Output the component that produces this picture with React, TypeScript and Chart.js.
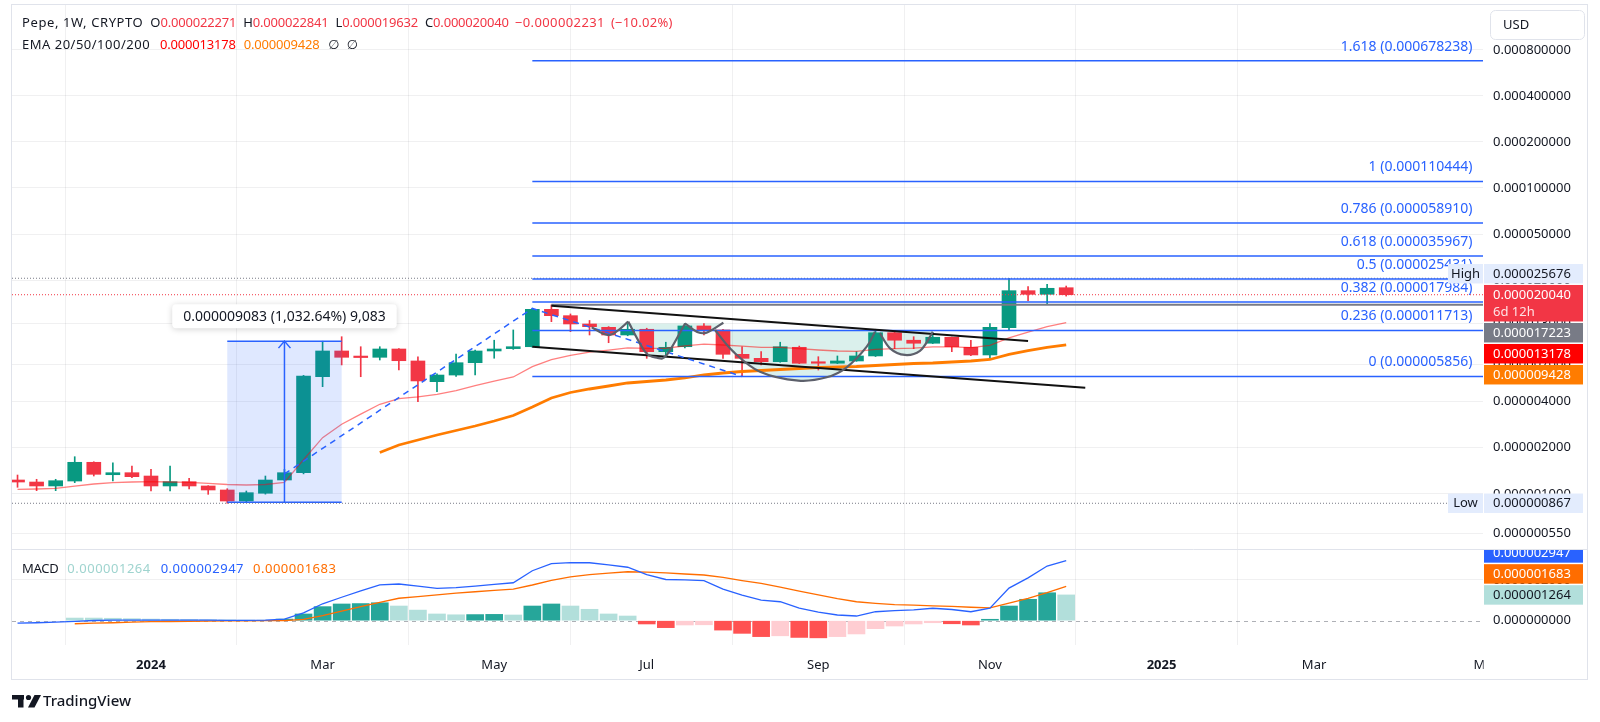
import React, { useEffect, useRef } from 'react';
import { Chart, registerables } from 'chart.js';

Chart.register(...registerables);

// ---------------------------------------------------------------------------
// DATA — weekly bars. Prices are in millionths of a US dollar (1 = 0.000001 USD).
// Week index 0 is the week of 1 Jan 2024; the first bar is week -7.
// ---------------------------------------------------------------------------
const FIRST_WEEK = -7;

const opens = [1.231, 1.194, 1.125, 1.212, 1.607, 1.333, 1.374, 1.307, 1.125, 1.2, 1.125, 1.059, 0.897, 1.008, 1.231, 1.374,
  5.834, 8.59, 7.85, 7.81, 8.85, 7.39, 5.41, 5.98, 7.2, 8.59, 8.9, 9.16, 16.09, 14.62, 12.9, 12.27, 10.93, 11.91, 8.5, 9.16,
  12.52, 11.79, 8.17, 7.69, 7.31, 9.08, 7.2, 7.14, 7.39, 7.97, 11.31, 10.1, 9.65, 10.56, 9.08, 8.09, 12.2, 21.3, 20.17, 22.271];
const highs = [1.327, 1.244, 1.244, 1.748, 1.62, 1.597, 1.52, 1.446, 1.52, 1.263, 1.13, 1.08, 1.043, 1.307, 1.446, 5.95,
  9.95, 10.65, 9.16, 9.16, 8.9, 7.88, 6.1, 8.21, 8.7, 10.1, 11.79, 16.3, 17.17, 15.0, 13.6, 12.4, 13.0, 12.1, 9.8, 13.0,
  13.0, 11.9, 9.16, 8.5, 9.8, 9.25, 7.88, 7.97, 8.5, 11.91, 11.4, 10.65, 11.31, 10.6, 10.1, 13.0, 25.676, 22.62, 23.46, 22.841];
const lows = [1.103, 1.048, 1.048, 1.182, 1.307, 1.212, 1.274, 1.043, 1.043, 1.075, 0.992, 0.867, 0.885, 0.995, 1.22, 1.35,
  5.017, 6.96, 5.83, 7.5, 6.45, 4.0, 4.65, 5.85, 5.98, 7.7, 8.8, 9.1, 13.36, 11.49, 10.93, 9.73, 10.8, 7.69, 7.97, 9.0,
  10.93, 7.69, 5.856, 6.96, 7.25, 7.1, 6.45, 7.1, 7.35, 7.9, 8.9, 8.9, 9.6, 8.5, 8.0, 7.69, 11.79, 18.32, 17.43, 19.632];
const closes = [1.194, 1.125, 1.218, 1.607, 1.341, 1.374, 1.294, 1.125, 1.2, 1.125, 1.059, 0.897, 1.017, 1.231, 1.374, 5.894,
  8.59, 7.81, 7.78, 8.85, 7.42, 5.47, 5.98, 7.2, 8.59, 8.85, 9.16, 16.09, 14.62, 12.9, 12.39, 10.93, 11.91, 8.5, 9.08, 12.52,
  11.79, 8.17, 7.69, 7.31, 9.16, 7.14, 7.14, 7.39, 7.97, 11.31, 10.1, 9.65, 10.56, 9.16, 8.09, 12.27, 21.3, 20.17, 22.08, 20.04];

const ema20 = [1.07, 1.075, 1.086, 1.124, 1.159, 1.182, 1.194, 1.2, 1.194, 1.186, 1.171, 1.15, 1.142, 1.15, 1.186,
  1.67, 2.33, 2.85, 3.32, 3.85, 4.19, 4.31, 4.47, 4.73, 5.1, 5.46, 5.81, 6.79, 7.53, 8.04, 8.45, 8.69, 8.99, 8.94, 8.95,
  9.29, 9.53, 9.4, 9.24, 9.06, 9.07, 8.89, 8.72, 8.59, 8.53, 8.79, 8.91, 8.98, 9.13, 9.13, 9.03, 9.34, 10.48, 11.4, 12.41, 13.178];
const ema50 = [null, null, null, null, null, null, null, null, null, null, null, null, null, null, null, null, null, null, null,
  1.863, 2.085, 2.248, 2.424, 2.594, 2.776, 2.993, 3.252, 3.695, 4.232, 4.597, 4.846, 5.07, 5.305, 5.426, 5.55, 5.72, 5.984,
  6.166, 6.308, 6.404, 6.501, 6.6, 6.699, 6.75, 6.801, 6.904, 7.01, 7.116, 7.17, 7.278, 7.388, 7.557, 8.15, 8.62, 9.08, 9.428];

const macdLine = [-0.12, -0.1, -0.07, -0.03, 0.01, 0.03, 0.03, 0.03, 0.03, 0.03, 0.03, 0.02, 0.02, 0.03, 0.08, 0.38, 0.83,
  1.15, 1.46, 1.76, 1.8, 1.7, 1.58, 1.62, 1.7, 1.78, 1.86, 2.45, 2.8, 2.85, 2.84, 2.74, 2.62, 2.26, 2.02, 2.0, 1.96, 1.55,
  1.25, 1.01, 0.93, 0.62, 0.42, 0.28, 0.23, 0.44, 0.49, 0.53, 0.61, 0.55, 0.44, 0.61, 1.6, 2.1, 2.68, 2.947];
const signalLine = [null, null, null, -0.15, -0.12, -0.1, -0.07, -0.05, -0.04, -0.03, -0.02, -0.01, -0.01, 0.0, 0.0, 0.07,
  0.25, 0.47, 0.69, 0.9, 1.1, 1.18, 1.27, 1.35, 1.42, 1.49, 1.55, 1.75, 1.98, 2.15, 2.26, 2.33, 2.4, 2.38, 2.34, 2.29, 2.24,
  2.12, 1.97, 1.83, 1.65, 1.45, 1.27, 1.08, 0.93, 0.85, 0.79, 0.76, 0.73, 0.7, 0.66, 0.63, 0.86, 1.1, 1.38, 1.683];
const histogram = [null, null, null, 0.13, 0.13, 0.12, 0.1, 0.08, 0.07, 0.06, 0.05, 0.04, 0.03, 0.03, 0.08, 0.33, 0.69, 0.82,
  0.84, 0.88, 0.72, 0.52, 0.33, 0.29, 0.3, 0.31, 0.28, 0.72, 0.82, 0.72, 0.56, 0.33, 0.23, -0.16, -0.34, -0.21, -0.2, -0.46,
  -0.62, -0.78, -0.74, -0.82, -0.84, -0.78, -0.65, -0.39, -0.26, -0.16, -0.1, -0.15, -0.21, 0.07, 0.72, 1.05, 1.37, 1.264];
// shade of each histogram column as seen: up = dark teal, dn = light teal, nd = red, nu = light red
const histShade = [null, null, null, 'dn', 'dn', 'dn', 'dn', 'dn', 'dn', 'dn', 'dn', 'dn', 'dn', 'dn', 'up', 'up', 'up', 'up',
  'up', 'up', 'dn', 'dn', 'dn', 'dn', 'up', 'up', 'dn', 'up', 'up', 'dn', 'dn', 'dn', 'dn', 'nd', 'nd', 'nu', 'nu', 'nd', 'nd',
  'nd', 'nu', 'nd', 'nd', 'nu', 'nu', 'nu', 'nu', 'nu', 'nu', 'nd', 'nd', 'up', 'up', 'up', 'up', 'dn'];

const timeTickWeeks = [0, 9, 18, 26, 35, 44, 53, 61, 70];
const timeTickLabels = ['2024', 'Mar', 'May', 'Jul', 'Sep', 'Nov', '2025', 'Mar', 'Mar'];
const boldTickLabels = ['2024', '2025'];
const priceTicks = [0.0008, 0.0004, 0.0002, 0.0001, 0.00005, 0.000025, 0.000013, 0.000007, 0.000004, 0.000002, 0.000001, 0.00000055];
const macdTicks = [0, 0.000002];

const fibLevels = ['1.618', '1', '0.786', '0.618', '0.5', '0.382', '0.236', '0'];
const fibPrices = [678.238, 110.444, 58.91, 35.967, 25.431, 17.984, 11.713, 5.856];

// drawings (anchors are [week, price in millionths])
const fibStartWeek = 20;
const grayRayStartWeek = 21;
const grayRayPrice = 17.223;
const upperTrend = [[21, 17.0], [46, 9.98]];
const lowerTrend = [[20, 9.165], [49, 4.94]];
const dashedPath = [[7, 1.35], [20, 16.3], [31, 5.856]];
const measureWeeks = [4, 10];
const measureArrowWeek = 7;
const measurePrices = [0.8796, 9.9626];
const measureText = '0.000009083 (1,032.64%) 9,083';
const cupWaveArcs = [
  [[23.11, 12.27], [24.07, 10.93], [25.03, 13.36]],
  [[25.03, 13.36], [25.91, 8.5], [26.52, 7.77], [27.05, 8.09], [28.01, 13.0]],
  [[28.01, 13.0], [28.62, 11.49], [29.14, 11.31], [30.02, 13.15]],
];
const cupWaveTop = 13.0;
const cupBowl = [[29.58, 11.79], [30.54, 8.5], [31.94, 6.28], [33.95, 5.5], [35.44, 5.78], [36.49, 6.72], [37.54, 9.165], [37.97, 11.49]];
const cupBowlTop = 11.79;
const cupHandle = [[38.23, 11.23], [38.76, 8.94], [39.54, 8.09], [40.33, 8.61], [40.86, 10.65], [41.0, 11.49]];
const cupHandleTop = 11.7;

const lastPrice = 20.04;
const highPrice = 25.676;
const lowPrice = 0.867;
const countdown = '6d 12h';
const changeAbs = '0.000002231';
const changePct = '10.02%';

// visible window
const X_MIN = -7.29;
const X_MAX = 69.86;
const Y_MIN = 4.355e-7;
const Y_MAX = 1.5726e-3;
const M_MIN = -1.191e-6;
const M_MAX = 3.515e-6;

// ---------------------------------------------------------------------------
const U = 1e-6;
const FONT = '"Noto Sans", Roboto, "DejaVu Sans", sans-serif';
const TEXT = '#131722';
const GRID = 'rgba(42,46,57,0.07)';
const GREEN = '#089981';
const RED = '#f23645';
const EMA20_COLOR = '#ff0000';
const EMA50_COLOR = '#ff7c00';
const BLUE = '#2962ff';
const M_ORANGE = '#ff6d00';
const LIGHT_TEAL = '#b2dfdb';
const LABEL_BLUE = '#e3ecfd';
const MINUS = '\u2212';

const weeks = opens.map((_, i) => FIRST_WEEK + i);
const candleColor = weeks.map((_, i) => (closes[i] >= opens[i] ? GREEN : RED));
const shadeColor: any = { up: '#26a69a', dn: LIGHT_TEAL, nd: '#ff5252', nu: '#ffcdd2' };
const fmt = (v: number) => v.toFixed(9);

function smoothPath(ctx: any, pts: number[][], move: boolean) {
  if (move) ctx.moveTo(pts[0][0], pts[0][1]);
  else ctx.lineTo(pts[0][0], pts[0][1]);
  for (let i = 0; i < pts.length - 1; i++) {
    const p0 = pts[i - 1] || pts[i];
    const p1 = pts[i];
    const p2 = pts[i + 1];
    const p3 = pts[i + 2] || p2;
    ctx.bezierCurveTo(
      p1[0] + (p2[0] - p0[0]) / 6, p1[1] + (p2[1] - p0[1]) / 6,
      p2[0] - (p3[0] - p1[0]) / 6, p2[1] - (p3[1] - p1[1]) / 6,
      p2[0], p2[1]);
  }
}

// parts: [text, color, gapAfter, letterSpacing]
function drawRun(ctx: any, x: number, y: number, parts: any[]) {
  for (const [t, color, gap, sp] of parts) {
    ctx.letterSpacing = `${sp || 0}px`;
    ctx.fillStyle = color;
    ctx.fillText(t, x, y);
    x += ctx.measureText(t).width + (gap || 0);
  }
  ctx.letterSpacing = '0px';
}

function stackLabels(items: any[], fixedIdx: number, gap: number) {
  for (let i = fixedIdx - 1; i >= 0; i--) {
    const lim = items[i + 1].top - gap;
    if (items[i].top + items[i].h > lim) items[i].top = lim - items[i].h;
  }
  for (let i = fixedIdx + 1; i < items.length; i++) {
    const lim = items[i - 1].top + items[i - 1].h + gap;
    if (items[i].top < lim) items[i].top = lim;
  }
}

const noPad = (s: any) => {
  s.paddingTop = 0;
  s.paddingBottom = 0;
  s.paddingLeft = 0;
  s.paddingRight = 0;
};

const overlay = {
  id: 'tvOverlay',
  beforeDatasetsDraw(chart: any) {
    const { ctx, chartArea: ca } = chart;
    const xs = chart.scales.x;
    const ys = chart.scales.y;
    const y2 = chart.scales.y2;
    const X = (w: number) => xs.getPixelForValue(w);
    const Y = (v: number) => ys.getPixelForValue(v * U);
    const P = (pts: number[][]) => pts.map((p) => [X(p[0]), Y(p[1])]);
    ctx.save();
    ctx.beginPath();
    ctx.rect(ca.left, ys.top, ca.right - ca.left, ys.bottom - ys.top);
    ctx.clip();
    ctx.fillStyle = 'rgba(8,153,129,0.15)';
    const region = (arcs: number[][][], top: number) => {
      const first = arcs[0][0];
      const last = arcs[arcs.length - 1][arcs[arcs.length - 1].length - 1];
      ctx.beginPath();
      ctx.moveTo(X(first[0]), Y(top));
      ctx.lineTo(X(last[0]), Y(top));
      for (let a = arcs.length - 1; a >= 0; a--) smoothPath(ctx, P(arcs[a].slice().reverse()), false);
      ctx.closePath();
      ctx.fill();
    };
    region(cupWaveArcs, cupWaveTop);
    region([cupBowl], cupBowlTop);
    region([cupHandle], cupHandleTop);
    ctx.restore();

    // MACD zero line
    ctx.save();
    ctx.strokeStyle = 'rgba(120,123,134,0.6)';
    ctx.lineWidth = 1;
    ctx.setLineDash([4, 4]);
    const z = Math.round(y2.getPixelForValue(0)) + 0.5;
    ctx.beginPath();
    ctx.moveTo(ca.left, z);
    ctx.lineTo(ca.right, z);
    ctx.stroke();
    ctx.restore();
  },
  afterDatasetsDraw(chart: any) {
    const { ctx, chartArea: ca } = chart;
    const xs = chart.scales.x;
    const ys = chart.scales.y;
    const X = (w: number) => xs.getPixelForValue(w);
    const Y = (v: number) => ys.getPixelForValue(v * U);
    const P = (pts: number[][]) => pts.map((p) => [X(p[0]), Y(p[1])]);
    const line = (pts: number[][], color: string, width: number, dash: number[] = []) => {
      ctx.save();
      ctx.strokeStyle = color;
      ctx.lineWidth = width;
      ctx.setLineDash(dash);
      ctx.beginPath();
      pts.forEach((p, i) => (i ? ctx.lineTo(p[0], p[1]) : ctx.moveTo(p[0], p[1])));
      ctx.stroke();
      ctx.restore();
    };
    const tagLeft = ca.right - 35;

    ctx.save();
    ctx.beginPath();
    ctx.rect(ca.left, ys.top, ca.right - ca.left, ys.bottom - ys.top);
    ctx.clip();

    // measure tool
    const mx1 = X(measureWeeks[0]);
    const mx2 = X(measureWeeks[1]);
    const myTop = Y(measurePrices[1]);
    const myBot = Y(measurePrices[0]);
    ctx.fillStyle = 'rgba(41,98,255,0.15)';
    ctx.fillRect(mx1, myTop, mx2 - mx1, myBot - myTop);
    line([[mx1, myTop], [mx2, myTop]], BLUE, 1.5);
    line([[mx1, myBot], [mx2, myBot]], BLUE, 1.5);
    const ax = X(measureArrowWeek);
    line([[ax, myBot], [ax, myTop]], BLUE, 1.5);
    line([[ax - 6, myTop + 7], [ax, myTop], [ax + 6, myTop + 7]], BLUE, 1.5);

    // high / low / last price lines
    line([[ca.left, Y(highPrice)], [tagLeft, Y(highPrice)]], '#787b86', 1, [1, 2]);
    line([[ca.left, Y(lowPrice)], [tagLeft, Y(lowPrice)]], '#787b86', 1, [1, 2]);
    line([[ca.left, Y(lastPrice)], [ca.right, Y(lastPrice)]], RED, 1, [1, 2]);

    // fib lines
    fibPrices.forEach((p) => line([[X(fibStartWeek), Y(p)], [ca.right, Y(p)]], BLUE, 1.5));
    // grey horizontal ray
    line([[X(grayRayStartWeek), Y(grayRayPrice)], [ca.right, Y(grayRayPrice)]], '#787b86', 2);
    // channel
    line(P(upperTrend), '#111', 2);
    line(P(lowerTrend), '#111', 2);
    // dashed path
    line(P(dashedPath), BLUE, 1.5, [6, 5]);
    // cup & handle curves
    ctx.save();
    ctx.strokeStyle = '#5d606b';
    ctx.lineWidth = 2.2;
    for (const arc of [...cupWaveArcs, cupBowl, cupHandle]) {
      ctx.beginPath();
      smoothPath(ctx, P(arc), true);
      ctx.stroke();
    }
    ctx.restore();
    ctx.restore();

    // measure label
    ctx.save();
    ctx.font = `14px ${FONT}`;
    const tw = ctx.measureText(measureText).width + 22;
    const lx = ax - tw / 2;
    const ly = myTop - 13 - 24;
    ctx.shadowColor = 'rgba(0,0,0,0.18)';
    ctx.shadowBlur = 6;
    ctx.shadowOffsetY = 1;
    ctx.fillStyle = '#fff';
    ctx.beginPath();
    ctx.roundRect(lx, ly, tw, 24, 4);
    ctx.fill();
    ctx.shadowColor = 'transparent';
    ctx.fillStyle = TEXT;
    ctx.textAlign = 'center';
    ctx.textBaseline = 'middle';
    ctx.fillText(measureText, ax, ly + 12.5);
    ctx.restore();

    // fib labels
    ctx.save();
    ctx.font = `14px ${FONT}`;
    ctx.fillStyle = BLUE;
    ctx.textAlign = 'right';
    ctx.textBaseline = 'middle';
    fibPrices.forEach((p, i) => {
      ctx.fillText(`${fibLevels[i]} (${fmt(p * U)})`, ca.right - 10.5, Y(p) - 14);
    });
    ctx.restore();
  },
  afterDraw(chart: any) {
    const { ctx, chartArea: ca } = chart;
    const xs = chart.scales.x;
    const ys = chart.scales.y;
    const y2 = chart.scales.y2;

    ctx.save();
    // clip the time label that runs under the price scale
    ctx.fillStyle = '#fff';
    ctx.fillRect(ca.right + 0.5, xs.top + 1, 1586 - ca.right, xs.bottom - xs.top - 2);

    // pane separator & frame
    ctx.strokeStyle = '#e0e3eb';
    ctx.lineWidth = 1;
    ctx.beginPath();
    ctx.moveTo(ca.left, Math.round(ys.bottom) + 0.5);
    ctx.lineTo(1587, Math.round(ys.bottom) + 0.5);
    ctx.stroke();
    ctx.strokeRect(11.5, 4.5, 1576, 675);

    ctx.font = `13px ${FONT}`;
    ctx.textBaseline = 'middle';
    const boxX = ca.right + 1;
    const boxW = 99;
    const textX = ca.right + 10;

    // price scale labels
    const items: any[] = [
      { v: highPrice, bg: LABEL_BLUE, fg: TEXT, tag: 'High' },
      { v: lastPrice, bg: RED, fg: '#fff', fixed: true, second: countdown },
      { v: grayRayPrice, bg: '#787b86', fg: '#fff' },
      { v: ema20[ema20.length - 1], bg: EMA20_COLOR, fg: '#fff' },
      { v: ema50[ema50.length - 1], bg: EMA50_COLOR, fg: '#fff' },
      { v: lowPrice, bg: LABEL_BLUE, fg: TEXT, tag: 'Low' },
    ].map((it) => {
      const y = ys.getPixelForValue(it.v * U);
      return { ...it, y, top: y - 9.75, h: it.second ? 36.5 : 19.5 };
    });
    stackLabels(items, 1, 1.5);
    ctx.save();
    ctx.beginPath();
    ctx.rect(ca.left, ys.top, 1587 - ca.left, ys.bottom - ys.top);
    ctx.clip();
    for (const it of items) {
      ctx.fillStyle = it.bg;
      ctx.fillRect(boxX, it.top, boxW, it.h);
      ctx.fillStyle = it.fg;
      ctx.textAlign = 'left';
      ctx.fillText(fmt(it.v * U), textX, it.top + 10);
      if (it.second) {
        ctx.fillStyle = 'rgba(255,255,255,0.85)';
        ctx.fillText(it.second, textX, it.top + 27);
      }
      if (it.tag) {
        ctx.fillStyle = it.bg;
        ctx.fillRect(ca.right - 35, it.top, 35, it.h);
        ctx.fillStyle = TEXT;
        ctx.textAlign = 'center';
        ctx.fillText(it.tag, ca.right - 17.5, it.top + 10);
      }
    }
    ctx.restore();

    // MACD scale labels
    const mItems: any[] = [
      { v: macdLine[macdLine.length - 1], bg: BLUE, fg: '#fff' },
      { v: signalLine[signalLine.length - 1], bg: M_ORANGE, fg: '#fff' },
      { v: histogram[histogram.length - 1], bg: LIGHT_TEAL, fg: TEXT },
    ].map((it) => {
      const y = y2.getPixelForValue(it.v * U);
      return { ...it, top: y - 9.75, h: 19.5 };
    });
    stackLabels(mItems, 2, 1.5);
    ctx.save();
    ctx.beginPath();
    ctx.rect(ca.right, ys.bottom + 1, 1587 - ca.right, y2.bottom - ys.bottom - 1);
    ctx.clip();
    ctx.textAlign = 'left';
    for (const it of mItems) {
      ctx.fillStyle = it.bg;
      ctx.fillRect(boxX, it.top, boxW, it.h);
      ctx.fillStyle = it.fg;
      ctx.fillText(fmt(it.v * U), textX, it.top + 10);
    }
    ctx.restore();

    // legends
    ctx.textAlign = 'left';
    drawRun(ctx, 22, 23, [
      ['Pepe, 1W, CRYPTO', TEXT, 7, 0.6], ['O', TEXT, 0], [fmt(opens[opens.length - 1] * U), RED, 7, -0.2],
      ['H', TEXT, 0], [fmt(highs[highs.length - 1] * U), RED, 7, -0.2],
      ['L', TEXT, 0], [fmt(lows[lows.length - 1] * U), RED, 7, -0.2],
      ['C', TEXT, 0], [fmt(closes[closes.length - 1] * U), RED, 6, -0.2],
      [MINUS, RED, 0.5], [changeAbs, RED, 6, 0.4], ['(', RED, 0], [MINUS, RED, 0.5], [changePct + ')', RED, 0, 0.3],
    ]);
    drawRun(ctx, 22, 45, [
      ['EMA 20/50/100/200', TEXT, 10, 0.5], [fmt(ema20[ema20.length - 1] * U), EMA20_COLOR, 8, -0.2],
      [fmt(ema50[ema50.length - 1] * U), EMA50_COLOR, 9, -0.2], ['\u2205', TEXT, 7], ['\u2205', TEXT, 0],
    ]);
    drawRun(ctx, 22, 569, [
      ['MACD', TEXT, 9, -0.3], [fmt(histogram[histogram.length - 1] * U), '#9fd4cf', 10, 0.5],
      [fmt(macdLine[macdLine.length - 1] * U), BLUE, 9, 0.5], [fmt(signalLine[signalLine.length - 1] * U), M_ORANGE, 0, 0.5],
    ]);

    // currency button
    ctx.strokeStyle = '#e0e3eb';
    ctx.beginPath();
    ctx.roundRect(1490.5, 10.5, 94, 29, 5);
    ctx.stroke();
    ctx.fillStyle = TEXT;
    ctx.fillText('USD', 1503, 25.5);

    // TradingView mark
    ctx.fillStyle = TEXT;
    ctx.fillRect(12, 695, 12, 4.5);
    ctx.fillRect(18, 695, 5.5, 12.5);
    ctx.beginPath();
    ctx.arc(28.5, 697.5, 2.6, 0, Math.PI * 2);
    ctx.fill();
    ctx.beginPath();
    ctx.moveTo(34.5, 695);
    ctx.lineTo(41, 695);
    ctx.lineTo(34.5, 707.5);
    ctx.lineTo(28, 707.5);
    ctx.closePath();
    ctx.fill();
    ctx.font = `500 15px ${FONT}`;
    ctx.fillText('TradingView', 43, 701.5);
    ctx.restore();
  },
};

export default function App() {
  const ref = useRef<HTMLCanvasElement | null>(null);
  useEffect(() => {
    const canvas = ref.current;
    if (!canvas) return;
    Chart.defaults.font.family = FONT;
    Chart.defaults.font.size = 13;
    Chart.defaults.color = TEXT;

    const pts = (arr: any[]) => weeks.map((w, i) => ({ x: w, y: arr[i] == null ? null : arr[i] * U })).filter((p) => p.y != null);

    const chart = new Chart(canvas, {
      data: {
        datasets: [
          { type: 'line', label: 'EMA 20', data: pts(ema20), borderColor: 'rgba(255,0,0,0.5)', borderWidth: 1.3, pointRadius: 0, yAxisID: 'y', order: 0 },
          { type: 'line', label: 'EMA 50', data: pts(ema50), borderColor: EMA50_COLOR, borderWidth: 2.8, pointRadius: 0, yAxisID: 'y', order: 0 },
          { type: 'bar', label: 'bodies', data: weeks.map((w, i) => ({ x: w, y: [opens[i] * U, closes[i] * U] })), backgroundColor: candleColor, barThickness: 14, minBarLength: 1.5, grouped: false, yAxisID: 'y', order: 2 },
          { type: 'bar', label: 'wicks', data: weeks.map((w, i) => ({ x: w, y: [lows[i] * U, highs[i] * U] })), backgroundColor: candleColor, barThickness: 1, grouped: false, yAxisID: 'y', order: 3 },
          { type: 'line', label: 'MACD', data: pts(macdLine), borderColor: BLUE, borderWidth: 1.3, pointRadius: 0, yAxisID: 'y2', order: 0 },
          { type: 'line', label: 'Signal', data: pts(signalLine), borderColor: M_ORANGE, borderWidth: 1.3, pointRadius: 0, yAxisID: 'y2', order: 0 },
          { type: 'bar', label: 'Histogram', data: weeks.map((w, i) => ({ x: w, y: histogram[i] == null ? null : histogram[i] * U })), backgroundColor: histShade.map((s) => (s ? shadeColor[s] : 'transparent')), barThickness: 17, grouped: false, yAxisID: 'y2', order: 4 },
        ],
      } as any,
      options: {
        responsive: false,
        maintainAspectRatio: false,
        animation: false,
        devicePixelRatio: 1,
        events: [],
        layout: { padding: { left: 12, right: 13, top: 5, bottom: 43 } },
        plugins: { legend: { display: false }, tooltip: { enabled: false } },
        scales: {
          x: {
            type: 'linear', min: X_MIN, max: X_MAX, offset: false, bounds: 'data',
            border: { display: false },
            grid: { color: (c: any) => (c.tick && c.tick.value > X_MAX ? 'transparent' : GRID), drawTicks: false },
            ticks: {
              autoSkip: false, maxRotation: 0, padding: 12, color: TEXT,
              font: (c: any) => ({ family: FONT, size: 13, weight: c.tick && boldTickLabels.includes(c.tick.label) ? 'bold' : 'normal' }),
              callback: (_v: any, i: number) => timeTickLabels[i],
            },
            afterBuildTicks: (s: any) => { s.ticks = timeTickWeeks.map((v) => ({ value: v })); },
            afterFit: (s: any) => { s.height = 34; noPad(s); },
          },
          y: {
            type: 'logarithmic', position: 'right', stack: 'panes', stackWeight: 544, weight: 1,
            min: Y_MIN, max: Y_MAX, bounds: 'data', offset: false,
            border: { display: false },
            grid: { color: GRID, drawTicks: false },
            ticks: { autoSkip: false, padding: 10, color: TEXT, font: { family: FONT, size: 13 }, callback: (v: any) => fmt(Number(v)) },
            afterBuildTicks: (s: any) => { s.ticks = priceTicks.map((v) => ({ value: v })); },
            afterFit: (s: any) => { s.width = 104; noPad(s); },
          },
          y2: {
            type: 'linear', position: 'right', stack: 'panes', stackWeight: 96, weight: 2,
            min: M_MIN, max: M_MAX, bounds: 'data', offset: false,
            border: { display: false },
            grid: { color: (c: any) => (c.tick && c.tick.value === 0 ? 'transparent' : GRID), drawTicks: false },
            ticks: { autoSkip: false, padding: 10, color: TEXT, font: { family: FONT, size: 13 }, callback: (v: any) => fmt(Number(v)) },
            afterBuildTicks: (s: any) => { s.ticks = macdTicks.map((v) => ({ value: v })); },
            afterFit: (s: any) => { s.width = 104; noPad(s); },
          },
        },
      } as any,
      plugins: [overlay],
    });
    return () => chart.destroy();
  }, []);

  return (
    <div style={{ position: 'absolute', left: 0, top: 0, width: 1600, height: 722, background: '#fff' }}>
      <canvas ref={ref} width={1600} height={722} style={{ display: 'block', width: 1600, height: 722 }} />
    </div>
  );
}
